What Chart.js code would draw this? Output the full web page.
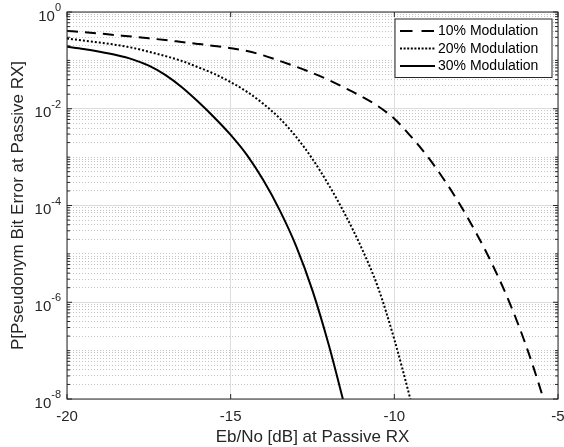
<!DOCTYPE html>
<html><head><meta charset="utf-8">
<script src="https://cdn.jsdelivr.net/npm/chart.js@4.4.1/dist/chart.umd.min.js"></script>
<style>html,body{margin:0;padding:0;background:#fff}#wrap{width:564px;height:447px;position:relative}</style>
</head><body><div id="wrap"><canvas id="c" width="564" height="447"></canvas></div>
<script>
// ---- data ----
const ebnoDb = [-20,-19.5,-19,-18.5,-18,-17.5,-17,-16.5,-16,-15.5,-15,-14.5,-14,-13.5,-13,-12.5,-12,-11.5,-11,-10.5,-10,-9.5,-9,-8.5,-8,-7.5,-7,-6.5,-6,-5.5,-5];
const mod10 = [0.407,0.383,0.358,0.333,0.310,0.286,0.263,0.240,0.219,0.199,0.179,0.156,0.127,0.0974,0.0739,0.0548,0.0392,0.0268,0.0179,0.0113,6.22e-3,2.71e-3,1.06e-3,3.58e-4,1.06e-4,2.71e-5,5.94e-6,1.06e-6,1.41e-7,1.33e-8,8.88e-10];
const mod20 = [0.282,0.257,0.234,0.209,0.182,0.151,0.123,0.0977,0.0724,0.0525,0.0355,0.0224,0.0126,6.31e-3,2.63e-3,9.12e-4,2.63e-4,6.46e-5,1.32e-5,2.04e-6,1.70e-7,9.33e-9,4.17e-10];
const mod30 = [0.191,0.172,0.151,0.129,0.105,0.0776,0.0501,0.0282,0.0141,6.61e-3,2.88e-3,1.10e-3,3.31e-4,7.94e-5,1.45e-5,1.74e-6,1.29e-7,6.46e-9];
const seriesLabels = ['10% Modulation','20% Modulation','30% Modulation'];
const xTicks = [-20,-15,-10,-5];
const yTickExponents = [0,-2,-4,-6,-8];
const xTitle = 'Eb/No [dB] at Passive RX';
const yTitle = 'P[Pseudonym Bit Error at Passive RX]';

// ---- styles ----
const FONT = "'Liberation Sans', Arial, Helvetica, sans-serif";
const AXC = '#262626';
const dashes = [[11,7],[2,2],[]];
const legendDashes = [[12.5,9],[2,1.6],[]];

function toPoints(arr){ return arr.map((v,i)=>({x: ebnoDb[i], y: v})); }

const datasets = [mod10, mod20, mod30].map((arr, i) => ({
  label: seriesLabels[i],
  data: toPoints(arr),
  borderColor: '#000',
  backgroundColor: '#000',
  borderWidth: 2,
  borderDash: dashes[i],
  borderCapStyle: 'butt',
  pointRadius: 0,
  fill: false,
  cubicInterpolationMode: 'monotone',
  clip: 0
}));

function isMajorY(t){ return t && t.isMajor; }

const decor = {
  id: 'decor',
  afterDatasetsDraw(chart){
    const ctx = chart.ctx, ca = chart.chartArea;
    const xs = chart.scales.x, ys = chart.scales.y;
    ctx.save();
    // box
    ctx.strokeStyle = AXC; ctx.lineWidth = 1; ctx.setLineDash([]);
    ctx.strokeRect(ca.left, ca.top, ca.right - ca.left, ca.bottom - ca.top);
    // y ticks (inward, both sides)
    ctx.beginPath();
    ys.ticks.forEach(t => {
      const y = ys.getPixelForValue(t.value);
      const len = t.isMajor ? 5 : 3;
      ctx.moveTo(ca.left, y); ctx.lineTo(ca.left + len, y);
      ctx.moveTo(ca.right, y); ctx.lineTo(ca.right - len, y);
    });
    xTicks.forEach(v => {
      const x = xs.getPixelForValue(v);
      ctx.moveTo(x, ca.bottom); ctx.lineTo(x, ca.bottom - 5);
      ctx.moveTo(x, ca.top); ctx.lineTo(x, ca.top + 5);
    });
    ctx.stroke();

    // tick labels
    ctx.fillStyle = AXC;
    ctx.textBaseline = 'alphabetic';
    ctx.textAlign = 'center';
    ctx.font = '15px ' + FONT;
    xTicks.forEach(v => {
      ctx.fillText(String(v), xs.getPixelForValue(v), ca.bottom + 21.5);
    });
    const rx = ca.left - 6;
    ctx.textAlign = 'right';
    yTickExponents.forEach(e => {
      const y = ys.getPixelForValue(Math.pow(10, e));
      ctx.font = '11px ' + FONT;
      const es = String(e);
      const ew = ctx.measureText(es).width;
      ctx.fillText(es, rx, y - 1);
      ctx.font = '15px ' + FONT;
      ctx.fillText('10', rx - ew, y + 8.5);
    });

    // axis titles
    ctx.font = '17px ' + FONT;
    ctx.textAlign = 'center';
    ctx.fillText(xTitle, (ca.left + ca.right) / 2, 441.5);
    ctx.save();
    ctx.translate(23.3, (ca.top + ca.bottom) / 2);
    ctx.rotate(-Math.PI / 2);
    ctx.fillText(yTitle, 0, 0);
    ctx.restore();

    // legend
    const bw = 157, bh = 58.5;
    const bx = ca.right - 6 - bw, by = ca.top + 7;
    ctx.fillStyle = '#fff';
    ctx.fillRect(bx, by, bw, bh);
    ctx.strokeStyle = AXC; ctx.lineWidth = 1;
    ctx.strokeRect(bx, by, bw, bh);
    const rows = [12, 29.5, 47];
    ctx.font = '14px ' + FONT;
    ctx.textAlign = 'left';
    ctx.textBaseline = 'middle';
    chart.data.datasets.forEach((ds, i) => {
      const yy = by + rows[i];
      ctx.strokeStyle = '#000';
      ctx.lineWidth = 2;
      ctx.lineCap = 'butt';
      ctx.setLineDash(legendDashes[i]);
      ctx.beginPath(); ctx.moveTo(bx + 5, yy); ctx.lineTo(bx + 40, yy); ctx.stroke();
      ctx.setLineDash([]);
      ctx.fillStyle = '#000';
      ctx.fillText(ds.label, bx + 43, yy + 0.5);
    });
    ctx.restore();
  }
};

new Chart(document.getElementById('c'), {
  type: 'line',
  data: { datasets },
  options: {
    responsive: false,
    animation: false,
    devicePixelRatio: 1,
    layout: { padding: { left: 0, right: 6, top: 12, bottom: 0 } },
    plugins: { legend: { display: false }, tooltip: { enabled: false } },
    scales: {
      x: {
        type: 'linear', min: -20, max: -5,
        afterBuildTicks: s => { s.ticks = xTicks.map(v => ({ value: v })); },
        ticks: { display: false },
        grid: { color: '#dedede', lineWidth: 1, drawTicks: false },
        border: { display: false },
        afterFit: s => { s.height = 48; }
      },
      y: {
        type: 'logarithmic', min: 1e-8, max: 1,
        afterBuildTicks: s => {
          const t = [];
          for (let k = -8; k <= 0; k++) {
            for (let m = 1; m <= 9; m++) {
              if (k === 0 && m > 1) break;
              t.push({ value: m * Math.pow(10, k), isMajor: m === 1 && Math.abs(k) % 2 === 0 });
            }
          }
          s.ticks = t;
        },
        ticks: { display: false },
        grid: {
          drawTicks: false, lineWidth: 1,
          color: c => isMajorY(c.tick) ? '#dcdcdc' : '#c4c4c4'
        },
        border: { display: false, dash: c => (c.tick && !c.tick.isMajor) ? [1, 2] : [] },
        afterFit: s => { s.width = 67; }
      }
    }
  },
  plugins: [decor]
});
</script></body></html>
